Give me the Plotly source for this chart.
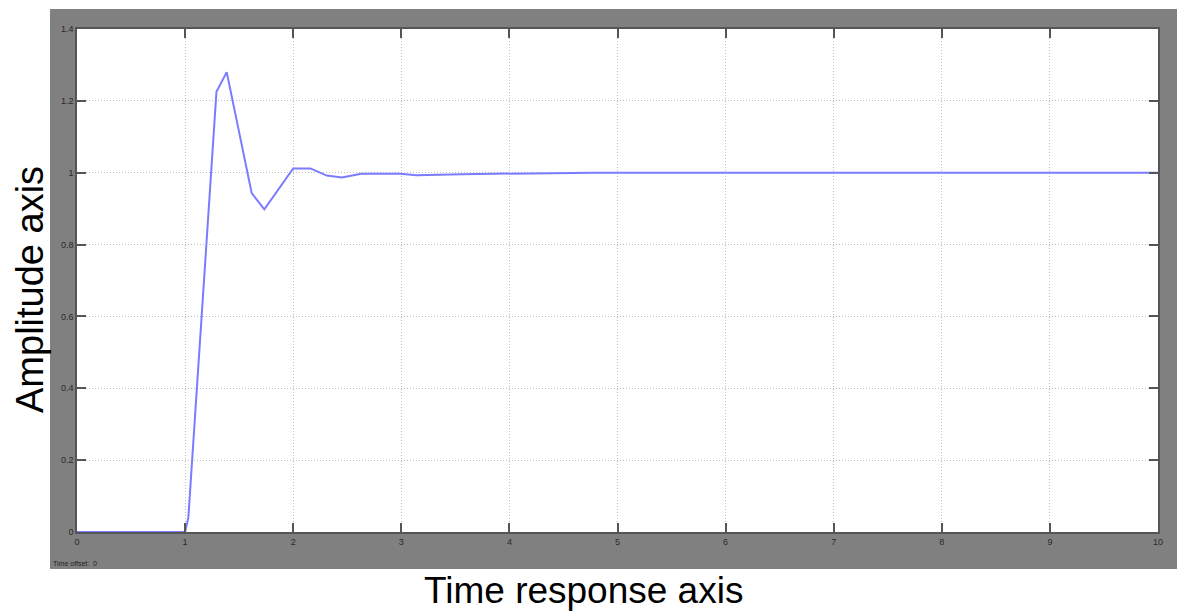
import plotly.graph_objects as go

# Data
time_s = [0, 1.0, 1.03, 1.29, 1.385, 1.616, 1.733, 2.0, 2.16, 2.31, 2.45, 2.63, 2.99, 3.14, 3.56, 4.76, 4.78, 10]
amplitude = [0, 0, 0.04, 1.225, 1.28, 0.943, 0.898, 1.012, 1.012, 0.992, 0.987, 0.997, 0.997, 0.993, 0.996, 0.998, 1.0, 1.0]

x_ticks = [0, 1, 2, 3, 4, 5, 6, 7, 8, 9, 10]
x_ticktext = ["0", "1", "2", "3", "4", "5", "6", "7", "8", "9", "10"]
y_ticks = [0, 0.2, 0.4, 0.6, 0.8, 1.0, 1.2, 1.4]
y_ticktext = ["0", "0.2", "0.4", "0.6", "0.8", "1", "1.2", "1.4"]

W, H = 1179, 612
L, R, T, B = 77, 1158, 29, 532  # plot area in pixels
pw, ph = R - L, B - T

def px_to_paper_x(px):
    return (px - L) / pw

def px_to_paper_y(py):
    return (B - py) / ph

fig = go.Figure()
fig.add_trace(go.Scatter(x=time_s, y=amplitude, mode="lines",
                         line=dict(color="#7b7bff", width=2), showlegend=False))

axis_common = dict(
    showgrid=True, gridcolor="#bcbcbc", griddash="1px,2px", gridwidth=1,
    zeroline=False, showline=True, linecolor="#555555", linewidth=1.5, mirror="ticks",
    ticks="inside", ticklen=9, tickcolor="#555555", tickwidth=1.5,
    tickfont=dict(family="Liberation Sans, Arial, sans-serif", size=9, color="#2a2a2a"),
    automargin=False,
)

fig.update_xaxes(range=[0, 10], tickvals=x_ticks, ticktext=x_ticktext, ticklabelstandoff=0, **axis_common)
fig.update_yaxes(range=[0, 1.4], tickvals=y_ticks, ticktext=y_ticktext, ticklabelstandoff=0, **axis_common)

shapes = [
    dict(type="rect", xref="paper", yref="paper", layer="below",
         x0=px_to_paper_x(50), x1=px_to_paper_x(1177),
         y0=px_to_paper_y(569), y1=px_to_paper_y(9),
         fillcolor="#808080", line=dict(width=0)),
    dict(type="rect", xref="paper", yref="paper", layer="below",
         x0=0, x1=1, y0=0, y1=1, fillcolor="#ffffff", line=dict(width=0)),
]

annotations = [
    dict(text="Amplitude axis", xref="paper", yref="paper",
         x=px_to_paper_x(30), y=px_to_paper_y(290), textangle=-90,
         showarrow=False, xanchor="center", yanchor="middle",
         font=dict(family="Liberation Sans, Arial, sans-serif", size=38, color="#000000")),
    dict(text="Time response axis", xref="paper", yref="paper",
         x=px_to_paper_x(583), y=px_to_paper_y(590),
         showarrow=False, xanchor="center", yanchor="middle",
         font=dict(family="Liberation Sans, Arial, sans-serif", size=37, color="#000000")),
    dict(text="Time offset:  0", xref="paper", yref="paper",
         x=px_to_paper_x(51), y=px_to_paper_y(563),
         showarrow=False, xanchor="left", yanchor="middle",
         font=dict(family="Liberation Sans, Arial, sans-serif", size=7, color="#222222")),
]

fig.update_layout(
    width=W, height=H,
    margin=dict(l=L, r=W - R, t=T, b=H - B, pad=0),
    paper_bgcolor="#ffffff", plot_bgcolor="#ffffff",
    shapes=shapes, annotations=annotations,
)

fig.write_html(
    "out.html",
    config={"displayModeBar": False},
    post_script="document.body.style.margin='0';document.body.style.overflow='hidden';",
)
